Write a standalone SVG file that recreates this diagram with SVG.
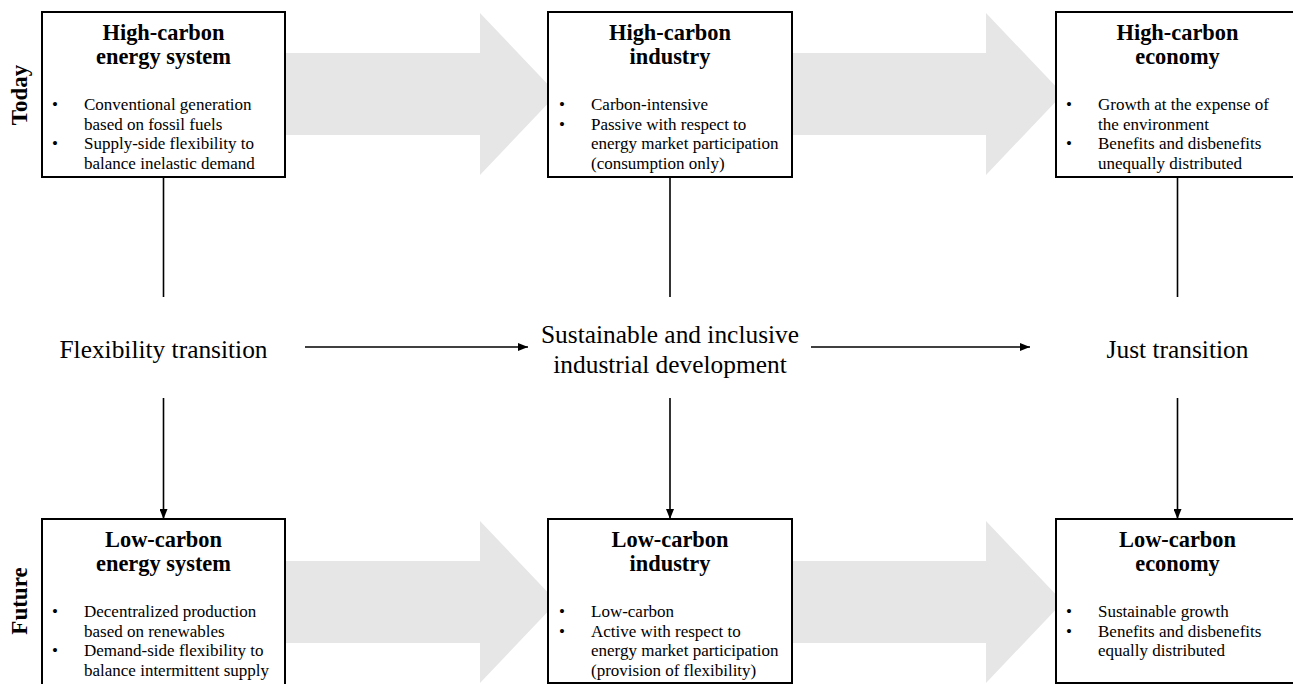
<svg xmlns="http://www.w3.org/2000/svg" width="1293" height="684" viewBox="0 0 1293 684">
<style>
.bg{fill:#ffffff}
.band{fill:#e7e6e6}
.box{fill:#ffffff;stroke:#000;stroke-width:2}
.title{font-family:"Liberation Serif","Times New Roman",serif;font-weight:bold;font-size:22.4px;fill:#000;text-anchor:middle}
.item{font-family:"Liberation Serif","Times New Roman",serif;font-size:17px;fill:#000}
.label{font-family:"Liberation Serif","Times New Roman",serif;font-size:25.4px;fill:#000;text-anchor:middle}
.side{font-family:"Liberation Serif","Times New Roman",serif;font-weight:bold;font-size:23px;fill:#000;text-anchor:middle}
.conn{stroke:#000;stroke-width:1.6;fill:none}
</style>
<defs>
<marker id="ah" viewBox="0 0 10 8" refX="10" refY="4" markerWidth="10" markerHeight="8" markerUnits="userSpaceOnUse" orient="auto">
<path d="M0,0 L10,4 L0,8 Z" fill="#000"/>
</marker>
</defs>
<rect class="bg" x="0" y="0" width="1293" height="684"/>

<g id="flow-bands">
<polygon class="band" points="285,53 480,53 480,13 557,94 480,175 480,135 285,135"/>
<polygon class="band" points="792,53 986,53 986,13 1063,94 986,175 986,135 792,135"/>
<polygon class="band" points="285,561 480,561 480,521 557,602 480,683 480,643 285,643"/>
<polygon class="band" points="792,561 986,561 986,521 1063,602 986,683 986,643 792,643"/>
</g>

<g id="side-labels">
<text class="side" transform="translate(27,95) rotate(-90)">Today</text>
<text class="side" transform="translate(27,601) rotate(-90)">Future</text>
</g>

<g id="connectors">
<line class="conn" x1="163.5" y1="177" x2="163.5" y2="297"/>
<line class="conn" x1="163.5" y1="398" x2="163.5" y2="519" marker-end="url(#ah)"/>
<line class="conn" x1="670" y1="177" x2="670" y2="297"/>
<line class="conn" x1="670" y1="398" x2="670" y2="519" marker-end="url(#ah)"/>
<line class="conn" x1="1177.5" y1="177" x2="1177.5" y2="297"/>
<line class="conn" x1="1177.5" y1="398" x2="1177.5" y2="519" marker-end="url(#ah)"/>
<line class="conn" x1="305" y1="347" x2="528" y2="347" marker-end="url(#ah)"/>
<line class="conn" x1="811" y1="347" x2="1030" y2="347" marker-end="url(#ah)"/>
</g>

<g id="node-flexibility">
<text class="label" x="163.5" y="358">Flexibility transition</text>
</g>
<g id="node-sustainable">
<text class="label" x="670" y="343">Sustainable and inclusive</text>
<text class="label" x="670" y="373">industrial development</text>
</g>
<g id="node-just">
<text class="label" x="1177.5" y="358">Just transition</text>
</g>

<g id="node-hc-energy">
<rect class="box" x="42" y="12" width="243" height="165"/>
<text class="title" x="163.5" y="40">High-carbon</text>
<text class="title" x="163.5" y="64">energy system</text>
<text class="item" x="52" y="110">•</text><text class="item" x="84" y="110">Conventional generation</text>
<text class="item" x="84" y="129.5">based on fossil fuels</text>
<text class="item" x="52" y="149">•</text><text class="item" x="84" y="149">Supply-side flexibility to</text>
<text class="item" x="84" y="168.5">balance inelastic demand</text>
</g>

<g id="node-hc-industry">
<rect class="box" x="548" y="12" width="244" height="165"/>
<text class="title" x="670" y="40">High-carbon</text>
<text class="title" x="670" y="64">industry</text>
<text class="item" x="559" y="110">•</text><text class="item" x="591" y="110">Carbon-intensive</text>
<text class="item" x="559" y="129.5">•</text><text class="item" x="591" y="129.5">Passive with respect to</text>
<text class="item" x="591" y="149">energy market participation</text>
<text class="item" x="591" y="168.5">(consumption only)</text>
</g>

<g id="node-hc-economy">
<rect class="box" x="1056" y="12" width="243" height="165"/>
<text class="title" x="1177.5" y="40">High-carbon</text>
<text class="title" x="1177.5" y="64">economy</text>
<text class="item" x="1066" y="110">•</text><text class="item" x="1098" y="110">Growth at the expense of</text>
<text class="item" x="1098" y="129.5">the environment</text>
<text class="item" x="1066" y="149">•</text><text class="item" x="1098" y="149">Benefits and disbenefits</text>
<text class="item" x="1098" y="168.5">unequally distributed</text>
</g>

<g id="node-lc-energy">
<rect class="box" x="42" y="519" width="243" height="166"/>
<text class="title" x="163.5" y="547">Low-carbon</text>
<text class="title" x="163.5" y="571">energy system</text>
<text class="item" x="52" y="617">•</text><text class="item" x="84" y="617">Decentralized production</text>
<text class="item" x="84" y="636.5">based on renewables</text>
<text class="item" x="52" y="656">•</text><text class="item" x="84" y="656">Demand-side flexibility to</text>
<text class="item" x="84" y="675.5">balance intermittent supply</text>
</g>

<g id="node-lc-industry">
<rect class="box" x="548" y="519" width="244" height="164"/>
<text class="title" x="670" y="547">Low-carbon</text>
<text class="title" x="670" y="571">industry</text>
<text class="item" x="559" y="617">•</text><text class="item" x="591" y="617">Low-carbon</text>
<text class="item" x="559" y="636.5">•</text><text class="item" x="591" y="636.5">Active with respect to</text>
<text class="item" x="591" y="656">energy market participation</text>
<text class="item" x="591" y="675.5">(provision of flexibility)</text>
</g>

<g id="node-lc-economy">
<rect class="box" x="1056" y="519" width="243" height="164"/>
<text class="title" x="1177.5" y="547">Low-carbon</text>
<text class="title" x="1177.5" y="571">economy</text>
<text class="item" x="1066" y="617">•</text><text class="item" x="1098" y="617">Sustainable growth</text>
<text class="item" x="1066" y="636.5">•</text><text class="item" x="1098" y="636.5">Benefits and disbenefits</text>
<text class="item" x="1098" y="656">equally distributed</text>
</g>
</svg>
